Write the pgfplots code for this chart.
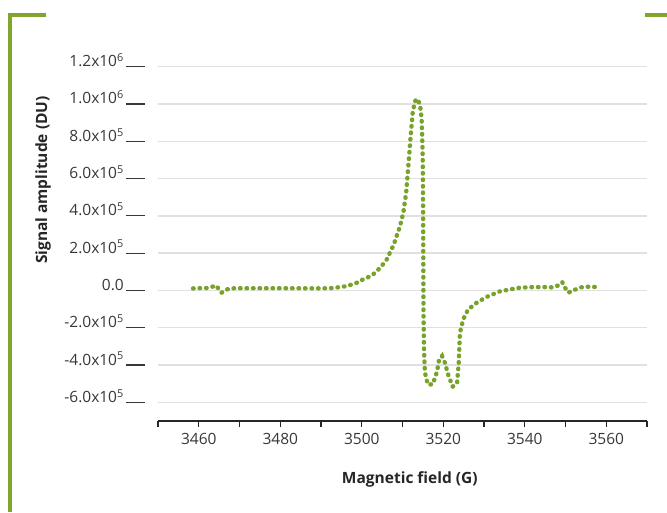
\documentclass[border=0pt]{standalone}
\usepackage{pgfplots}
\pgfplotsset{compat=1.18}
\usepackage{fontspec}
\setmainfont{Open Sans}
\definecolor{epr}{RGB}{120,162,42}
\definecolor{frame}{RGB}{128,166,45}
\definecolor{txt}{RGB}{55,55,55}
\definecolor{gridc}{RGB}{224,224,224}
\newcommand{\tl}[1]{#1\hspace{2.5pt}\rule[-0.6pt]{18.5pt}{1.2pt}}
\begin{document}
\begin{tikzpicture}
\path[use as bounding box] (0,0) rectangle (667pt,513pt);
\fill[frame] (8.3pt,1pt) rectangle (12.3pt,499.7pt);
\fill[frame] (8.3pt,496.3pt) rectangle (45.7pt,499.7pt);
\fill[frame] (645pt,496.3pt) rectangle (667pt,499.7pt);
\begin{axis}[
  at={(158pt,92pt)}, anchor=south west,
  scale only axis, width=489pt, height=373pt,
  xmin=3450, xmax=3570, ymin=-7e5, ymax=1.3e6,
  scaled y ticks=false, scaled x ticks=false,
  axis x line*=bottom, axis y line*=left,
  x axis line style={-, line width=1.1pt, black!85},
  y axis line style={draw=none},
  xtick={3460,3480,...,3560},
  xticklabels={3460,3480,3500,3520,3540,3560},
  minor xtick={3450,3470,...,3570},
  tick align=outside,
  major tick length=6pt, minor tick length=6pt,
  x tick style={line width=1.1pt, black!85},
  minor x tick style={line width=1.1pt, black!85},
  y tick style={draw=none},
  ytick={-6e5,-4e5,-2e5,0,2e5,4e5,6e5,8e5,1e6,1.2e6},
  yticklabels={\tl{-6.0x10\textsuperscript{5}},\tl{-4.0x10\textsuperscript{5}},\tl{-2.0x10\textsuperscript{5}},\tl{0.0},\tl{2.0x10\textsuperscript{5}},\tl{4.0x10\textsuperscript{5}},\tl{6.0x10\textsuperscript{5}},\tl{8.0x10\textsuperscript{5}},\tl{1.0x10\textsuperscript{6}},\tl{1.2x10\textsuperscript{6}}},
  yticklabel style={anchor=base east, inner sep=0pt, xshift=-7pt, font=\fontsize{15.5}{18}\selectfont, text=txt},
  xticklabel style={font=\fontsize{15.5}{18}\selectfont, text=txt, yshift=-3pt},
  ymajorgrids, major grid style={gridc, line width=1.4pt},
  xlabel={Magnetic field (G)},
  ylabel={Signal amplitude (DU)},
  xlabel style={font=\bfseries\fontsize{15.5}{18}\selectfont, text=black!85, at={(axis description cs:0.515,-0.158)}, anchor=center},
  ylabel style={font=\bfseries\fontsize{15.5}{18}\selectfont, text=black!85, at={(axis description cs:-0.235,0.646)}, anchor=center, rotate=0},
  clip=false,
]
\addplot[epr, line width=4.4pt, line cap=round, dash pattern=on 0.6pt off 5.9pt] coordinates {
(3458.6,1.07e4) (3460,1.2e4) (3462,1.3e4) (3463.5,2.1e4) (3464.2,2.7e4)
(3465,0.5e4) (3465.6,-1.2e4) (3466.5,0) (3467.5,1.1e4) (3470,1.2e4)
(3480,1.2e4) (3490,1.1e4) (3493,1.3e4) (3496.3,2.3e4) (3498.5,3.8e4)
(3500.3,5.9e4) (3502.5,8.0e4) (3504.5,1.21e5) (3506,1.61e5) (3507.7,2.38e5)
(3509.4,3.45e5) (3510.2,4.17e5) (3510.9,5.24e5) (3511.5,6.85e5) (3512.0,8.27e5)
(3512.5,9.53e5) (3513.07,1.015e6) (3513.6,1.028e6) (3514.3,9.97e5) (3514.7,9.17e5)
(3514.9,7.74e5) (3515.0,6.49e5) (3515.1,2.2e5) (3515.15,-1.18e5) (3515.3,-3.32e5)
(3515.5,-4.4e5) (3516.2,-5.04e5) (3517.4,-5.04e5) (3518.4,-4.41e5) (3519.0,-3.7e5)
(3519.7,-3.52e5) (3520.4,-3.88e5) (3521.2,-4.5e5) (3522.3,-5.16e5) (3523.4,-4.95e5)
(3523.8,-3.88e5) (3524.1,-2.27e5) (3524.9,-1.55e5) (3526.1,-1.02e5) (3528.2,-6.6e4)
(3530.6,-3.5e4) (3532.5,-1.8e4) (3533.9,-5e3) (3535.6,2e3) (3537.2,9e3)
(3538.8,1.45e4) (3542,1.8e4) (3545.4,1.8e4) (3546.8,1.6e4) (3548.2,2.7e4)
(3549.2,4.45e4) (3549.9,1.45e4) (3550.7,-1.2e4) (3552.1,2e3) (3553.6,1.6e4)
(3555.2,2e4) (3558.3,1.8e4)
};
\end{axis}
\end{tikzpicture}
\end{document}
